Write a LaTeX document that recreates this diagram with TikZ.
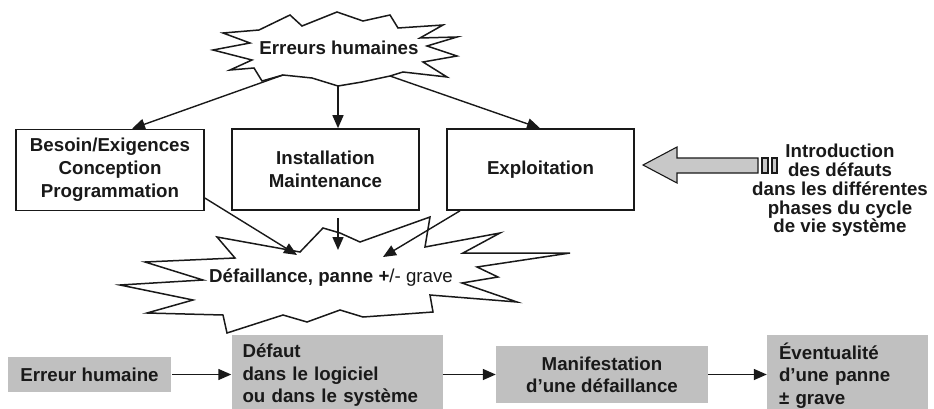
\documentclass[tikz,border=0pt]{standalone}
\usepackage{fontspec}
\setmainfont{Liberation Sans}
\usetikzlibrary{arrows.meta}
\definecolor{ink}{RGB}{25,25,25}
\definecolor{boxgray}{RGB}{192,192,192}
\definecolor{arrgray}{RGB}{200,200,200}
\begin{document}
\begin{tikzpicture}[x=1pt,y=-1pt,
  every node/.style={font=\fontsize{18.7}{23}\selectfont\bfseries, text=ink},
  wbox/.style={draw=ink, line width=1.6pt, fill=white, inner sep=0pt, align=center},
  gbox/.style={fill=boxgray, inner sep=0pt},
  starshape/.style={draw=ink, line width=1.5pt, fill=white, line join=miter},
  conn/.style={draw=ink, line width=1.4pt, -{Triangle[length=13pt,width=11pt]}},
  bigarrow/.style={draw=ink, line width=1.1pt, fill=arrgray},
]
\useasboundingbox (0,0) rectangle (934,409);

% top star
\draw[starshape] (213,50) -- (250,43) -- (223,33) -- (259,30) -- (290,15) -- (302,26)
  -- (337,12) -- (363,21) -- (390,15) -- (398,28) -- (443,25) -- (420,38) -- (457,37)
  -- (427,46) -- (457,56) -- (423,62) -- (447,77) -- (403,72) -- (390,76) -- (362,82)
  -- (338,86) -- (312,78) -- (283,75) -- (262,81) -- (254,68) -- (230,70) -- (252,60) -- cycle;
\node (erreurs) at (339,48) {Erreurs humaines};
\coordinate (s1l) at (283,75);
\coordinate (s1m) at (338,86);
\coordinate (s1r) at (390,76);

% white boxes
\node[wbox, minimum width=188pt, minimum height=81pt] (besoin) at (110,170)
  {Besoin/Exigences\\Conception\\Programmation};
\node[wbox, minimum width=187pt, minimum height=81pt] (install) at (325.5,169.5)
  {Installation\\Maintenance};
\node[wbox, minimum width=187pt, minimum height=81pt] (exploit) at (540.5,169.5)
  {Exploitation};

\draw[conn] (s1l) -- (132,0 |- besoin.north);
\draw[conn] (s1m) -- (338,0 |- install.north);
\draw[conn] (s1r) -- (540,0 |- exploit.north);

% bottom star
\draw[starshape] (120,285) -- (203,280) -- (145,262) -- (235,258) -- (217,237) -- (300,252)
  -- (323,228) -- (340,233) -- (360,242) -- (430,217) -- (425,247) -- (500,233) -- (463,253)
  -- (570,253) -- (477,267) -- (498,277) -- (462,283) -- (517,302) -- (430,295) -- (433,312)
  -- (363,317) -- (340,310) -- (307,322) -- (283,315) -- (227,333) -- (223,315) -- (147,313)
  -- (193,300) -- cycle;
\node (defaillance) at (331,278) {Défaillance, panne +\mdseries/- grave};
\coordinate (s2l) at (297,255);
\coordinate (s2m) at (338,250);
\coordinate (s2r) at (383,257);
\coordinate (i1) at (338,218);
\draw[conn] (besoin.east |- 0,198) -- (s2l);
\draw[conn] (i1) -- (s2m);
\draw[conn] (460,0 |- exploit.south) -- (s2r);

% big gray arrow
\draw[bigarrow] (643,165) -- (677,147) -- (677,158) -- (758,158) -- (758,173) -- (677,173)
  -- (677,183) -- cycle;
\draw[bigarrow] (762,158) rectangle (768,173);
\draw[bigarrow] (772,158) rectangle (777,173);
\node[align=center, font=\fontsize{18.7}{18.8}\selectfont\bfseries] (intro) at (840,190.5)
  {Introduction\\des défauts\\dans les différentes\\phases du cycle\\de vie système};

% bottom row
\node[gbox, minimum width=163pt, minimum height=35pt] (erreur) at (89.5,374.5) {Erreur humaine};
\node[gbox, minimum height=81pt, text width=189pt, inner xsep=11pt, align=left,
  font=\fontsize{18.7}{22.5}\selectfont\bfseries] (defaut) at (337,375.5)
  {Défaut\\dans le logiciel\\ou dans le système};
\node[gbox, minimum width=212pt, minimum height=57pt, align=center,
  font=\fontsize{18.7}{22}\selectfont\bfseries] (manif) at (602,374.5)
  {Manifestation\\d’une défaillance};
\node[gbox, minimum height=81pt, text width=137pt, inner xsep=12pt, align=left,
  font=\fontsize{18.7}{22.5}\selectfont\bfseries] (event) at (847.5,375.5)
  {Éventualité\\d’une panne\\± grave};

\draw[conn] ([xshift=1pt]erreur.east) -- (erreur.east -| defaut.west);
\draw[conn] (defaut.east |- manif.west) -- (manif.west);
\draw[conn] (manif.east) -- (manif.east -| event.west);
\end{tikzpicture}
\end{document}
